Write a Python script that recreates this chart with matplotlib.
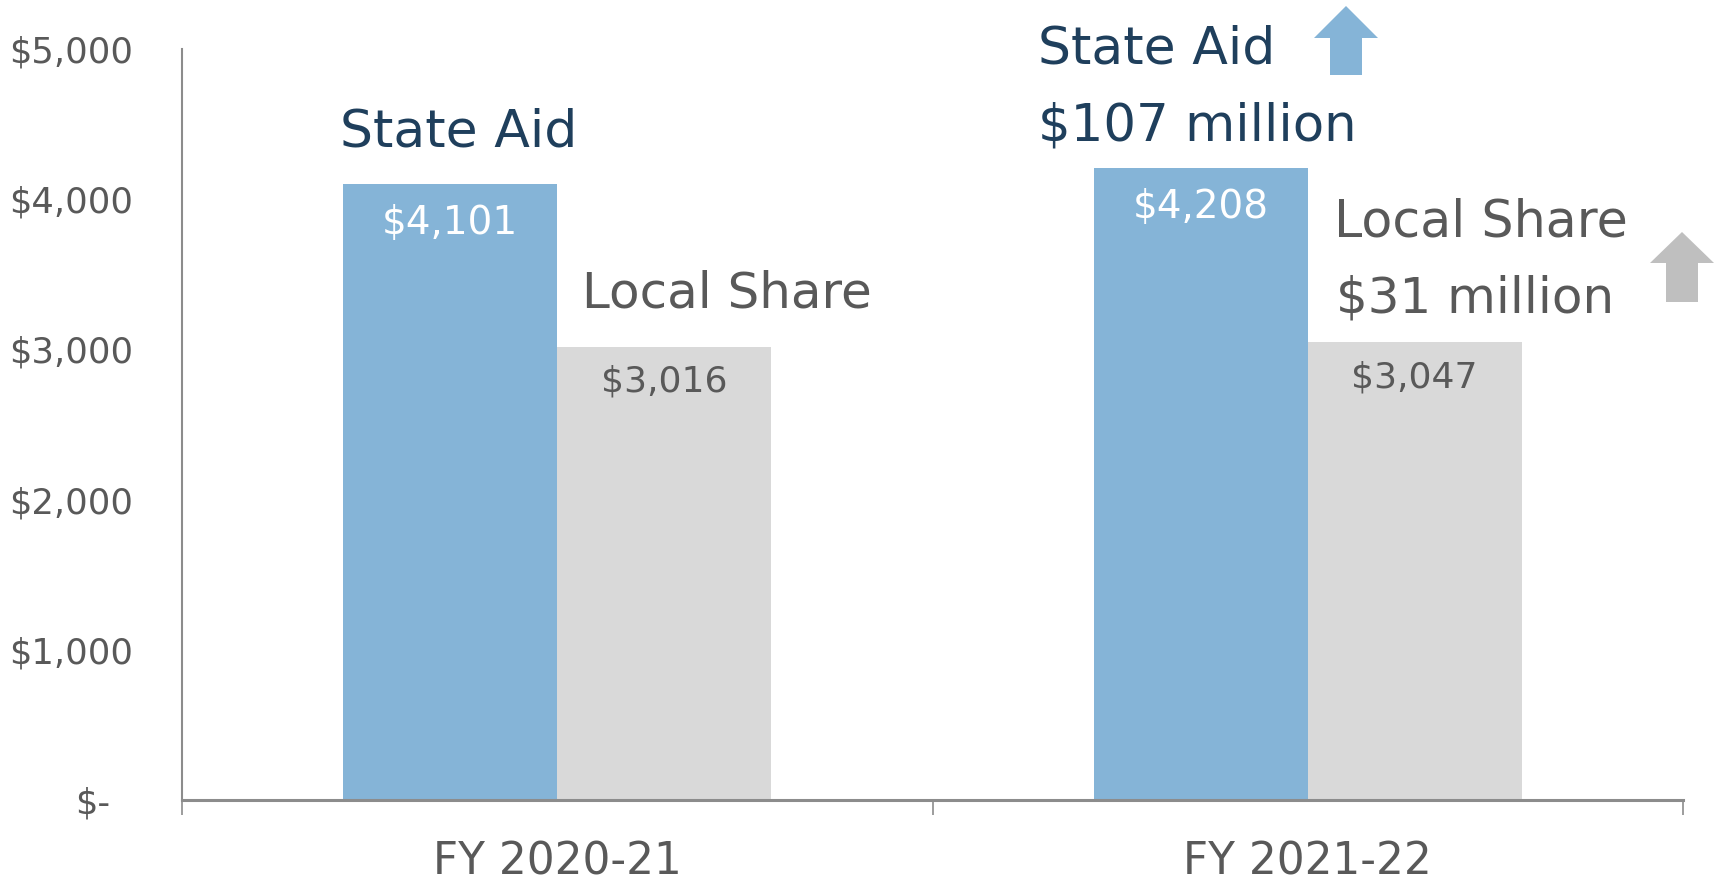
import matplotlib
matplotlib.use("Agg")
import matplotlib.pyplot as plt
from matplotlib.patches import Polygon
import matplotlib.transforms as mtransforms

# ---- data ----
categories = ["FY 2020-21", "FY 2021-22"]
state_aid = [4101, 4208]
local_share = [3016, 3047]
state_aid_labels = ["$4,101", "$4,208"]
local_share_labels = ["$3,016", "$3,047"]
yticks = [0, 1000, 2000, 3000, 4000, 5000]
ytick_labels = ["$-", "$1,000", "$2,000", "$3,000", "$4,000", "$5,000"]

BLUE = "#85b4d7"
GREY_BAR = "#d9d9d9"
GREY_TXT = "#595959"
NAVY = "#1f3f5c"
AXIS = "#8c8c8c"

plt.rcParams["font.family"] = ["DejaVu Sans"]

fig = plt.figure(figsize=(17.21, 8.82), dpi=100)
ax = fig.add_axes([182 / 1721, 1 - 800 / 882, (1683 - 182) / 1721, (800 - 49) / 882])

w = 0.285
xs = list(range(len(categories)))
ax.bar([x - w / 2 for x in xs], state_aid, width=w, color=BLUE, zorder=2)
ax.bar([x + w / 2 for x in xs], local_share, width=w, color=GREY_BAR, zorder=2)

ax.set_xlim(-0.5, 1.5)
ax.set_ylim(0, 5000)

for s in ["top", "right"]:
    ax.spines[s].set_visible(False)
ax.spines["left"].set_color(AXIS)
ax.spines["left"].set_linewidth(1.5)
ax.spines["bottom"].set_color(AXIS)
ax.spines["bottom"].set_linewidth(2.2)

ax.set_yticks(yticks)
ax.set_yticklabels(ytick_labels, fontsize=25.5, color=GREY_TXT)
ax.tick_params(axis="y", length=0, pad=35)
lab0 = ax.get_yticklabels()[0]
lab0.set_transform(lab0.get_transform() + mtransforms.ScaledTranslation(-23 / 100, 0, fig.dpi_scale_trans))

ax.set_xticks([-0.5, 0.5, 1.5])
ax.set_xticklabels(["", "", ""])
ax.tick_params(axis="x", which="major", length=11, width=1.2, color=AXIS, direction="out")
ax.set_xticks(xs, minor=True)
ax.set_xticklabels(categories, minor=True, fontsize=31.5, color=GREY_TXT)
ax.tick_params(axis="x", which="minor", length=0, pad=29)

# value labels
for x, v, lab in zip(xs, state_aid, state_aid_labels):
    ax.annotate(lab, (x - w / 2, v), xytext=(0, -28), textcoords="offset points",
                ha="center", va="center", fontsize=28, color="white", zorder=3)
for x, v, lab in zip(xs, local_share, local_share_labels):
    ax.annotate(lab, (x + w / 2, v), xytext=(0, -25), textcoords="offset points",
                ha="center", va="center", fontsize=26, color=GREY_TXT, zorder=3)

# annotations
ax.text(-0.29, 4447, "State Aid", fontsize=37.5, color=NAVY, ha="left", va="center")
ax.text(0.033, 3369, "Local Share", fontsize=36, color=GREY_TXT, ha="left", va="center")
ax.text(0.641, 5000, "State Aid", fontsize=37.5, color=NAVY, ha="left", va="center", clip_on=False)
ax.text(0.641, 4487, "$107 million", fontsize=37, color=NAVY, ha="left", va="center")
ax.text(1.035, 3842, "Local Share", fontsize=36.5, color=GREY_TXT, ha="left", va="center")
ax.text(1.038, 3336, "$31 million", fontsize=36, color=GREY_TXT, ha="left", va="center")

# up arrows (figure pixel coords -> fraction)
def arrow(tipx, tipy, headw, headbase, shaftw, bottom, color):
    pts = [(tipx, tipy), (tipx + headw / 2, headbase), (tipx + shaftw / 2, headbase),
           (tipx + shaftw / 2, bottom), (tipx - shaftw / 2, bottom),
           (tipx - shaftw / 2, headbase), (tipx - headw / 2, headbase)]
    pts = [(px / 1721, 1 - py / 882) for px, py in pts]
    fig.add_artist(Polygon(pts, closed=True, facecolor=color, edgecolor="none",
                           transform=fig.transFigure))

arrow(1346, 6, 64, 38, 32, 75, BLUE)
arrow(1682, 232, 64, 263, 32, 302, "#bfbfbf")

fig.savefig("out.png", dpi=100)
